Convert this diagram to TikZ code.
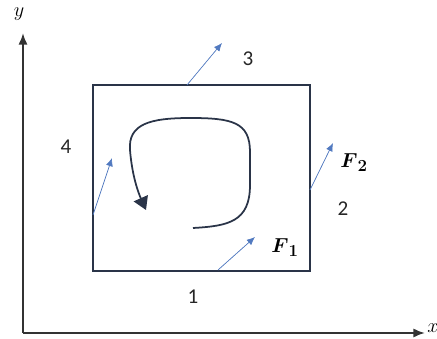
\documentclass[tikz,border=0pt]{standalone}
\usepackage{amsmath}
\usepackage{fontspec}
\usetikzlibrary{arrows.meta}
\newfontfamily\digitfont{Carlito}
\definecolor{boxnavy}{RGB}{42,52,72}
\definecolor{forceblue}{RGB}{82,122,192}

\begin{document}
\begin{tikzpicture}[x=0.03cm, y=-0.03cm,
    axis/.style={-{Latex[length=10pt,width=8pt]}, line width=1.9pt, draw=black!80},
    region/.style={rectangle, draw=boxnavy, line width=1.4pt, minimum width=6.51cm, minimum height=5.58cm, inner sep=0pt},
    force/.style={-{Latex[length=7pt,width=6pt]}, draw=forceblue, fill=forceblue, line width=0.6pt},
    curl/.style={-{Triangle[length=11pt,width=13pt]}, draw=boxnavy, line width=1.5pt},
    num/.style={font=\digitfont\fontsize{18}{21}\selectfont, text=black!85},
    vec/.style={font=\fontsize{19}{22}\selectfont}]

    \useasboundingbox (0,0) rectangle (437,339);

    % Axes
    \coordinate (origin) at (23,333);
    \coordinate (xend) at (425,333);
    \coordinate (yend) at (23,33);
    \draw[axis] (origin) -- (xend);
    \draw[axis] (origin) -- (yend);
    \node[vec] (ylab) at (19,14) {$y$};
    \node[vec, anchor=west, inner sep=1pt] (xlab) at (426,328) {$x$};

    % Region
    \node[region] (box) at (201.5,178) {};

    % Circulation
    \coordinate (cstart) at (193,228);
    \coordinate (cend) at (146,210);
    \draw[curl] (cstart) .. controls (228,226) and (250,222) .. (250,185)
        -- (250,152) .. controls (250,122) and (232,118) .. (190,118)
        .. controls (150,118) and (128,124) .. (130,150)
        .. controls (132,175) and (138,192) .. (cend);

    % Forces on the sides
    \coordinate (f1s) at (218,270);
    \coordinate (f1e) at (255,237);
    \coordinate (f2s) at (310,190);
    \coordinate (f2e) at (333,143);
    \coordinate (f3s) at (187,85);
    \coordinate (f3e) at (222,43);
    \coordinate (f4s) at (93,215);
    \coordinate (f4e) at (112,158);
    \draw[force] (f1s) -- (f1e);
    \draw[force] (f2s) -- (f2e);
    \draw[force] (f3s) -- (f3e);
    \draw[force] (f4s) -- (f4e);

    % Labels
    \node[num] (s1) at (193,297) {1};
    \node[num] (s2) at (343,209) {2};
    \node[num] (s3) at (248,59) {3};
    \node[num] (s4) at (66,147) {4};
    \node[vec] (F1) at (285,248) {$\boldsymbol{F}_{\boldsymbol{1}}$};
    \node[vec] (F2) at (354,163) {$\boldsymbol{F}_{\boldsymbol{2}}$};

\end{tikzpicture}
\end{document}
